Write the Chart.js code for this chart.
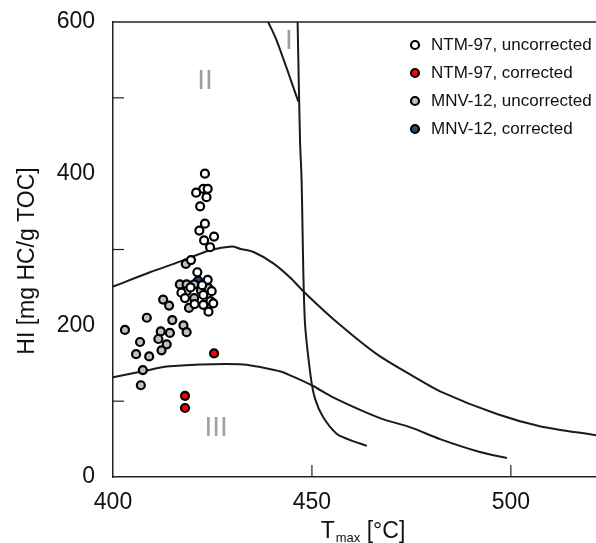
<!DOCTYPE html>
<html>
<head>
<meta charset="utf-8">
<script src="https://cdn.jsdelivr.net/npm/chart.js@4.4.1/dist/chart.umd.min.js"></script>
<style>
html,body{margin:0;padding:0;background:#fff;}
#wrap{width:596px;height:543px;}
</style>
</head>
<body>
<div id="wrap"><canvas id="c" width="596" height="543"></canvas></div>
<script>
// ---- Data ----
const ntmUncorrT  = [423.1,422.7,423.8,420.9,423.5,421.9,423.1,421.7,425.4,422.9,424.4,419.6,421.2,423.8,422.4,424.8,417.2,418.1,424.5,425.2,422.7,424.0,422.7,419.5,420.5];
const ntmUncorrHI = [400,380,380,375,369,357,334,325,317,312,303,286,270,260,253,245,243,236,232,229,227,218,240,250,228];
const ntmCorrT  = [425.4,418.1,418.1];
const ntmCorrHI = [163,107,91];
const mnvUncorrT  = [418.3,416.8,418.5,420.4,424.0,418.5,422.1,420.4,419.1,412.6,414.1,408.5,414.9,417.7,418.5,403.0,412.0,414.3,411.4,413.5,406.8,412.2,405.8,409.1,407.5,407.0];
const mnvUncorrHI = [281,254,254,254,249,245,246,236,223,234,226,210,207,200,191,194,192,190,182,175,178,167,162,159,141,121];
const mnvCorrT  = [421.4];
const mnvCorrHI = [259];

// boundary curves (Tmax, HI)
const upperCurveT  = [400,409.3,416.8,424.4,429.9,431.9,435.2,440.2,444.5,448.2,456.3,466.3,475.4,482.2,496.5,507.3,521.4];
const upperCurveHI = [251,270,284,299,304,301,297,282,263,243,204,162,133,113,83,67,55];
const lowerCurveT  = [400,407.5,414.3,431.9,441.9,445,450.3,455.3,467.1,474.6,482.2,492.2,499];
const lowerCurveHI = [131.6,139.5,146,148.7,139.5,133,120,105,77.6,65.8,50,33,25];
const typeIcurveT  = [439,441.1,446.6];
const typeIcurveHI = [600,576,495];
const steepCurveT  = [446.4,447,447.4,448.2,449.7,450.8,452.8,456.2,459,463.8];
const steepCurveHI = [600,445,392,208,132,103,79,57,50,41];

// axis settings
const xMin = 400, xMax = 521.4, yMin = 0, yMax = 600;
const xTickLabels = [400,450,500];
const yTickLabels = [0,200,400,600];
const xInnerTicks = [450,500];
const yInnerTicks = [100,300,500];

// region labels
const regionNames = ['I','II','III'];
const regionT  = [444.2,423.1,425.9];
const regionHI = [575,522,64];

const legendNames = ['NTM-97, uncorrected','NTM-97, corrected','MNV-12, uncorrected','MNV-12, corrected'];
const colors = {white:'#ffffff', red:'#ff0000', gray:'#bfbfbf', blue:'#1f4e79'};

const FONT = '"Liberation Sans", Arial, Helvetica, sans-serif';
const toPts = (xs, ys) => xs.map((x,i)=>({x:x, y:ys[i]}));

function pointSet(label, xs, ys, fill){
  return {label, data: toPts(xs,ys), backgroundColor: fill, borderColor:'#000', borderWidth:2.2,
    pointRadius:4, pointHoverRadius:4, showLine:false, order:0};
}
function lineSet(xs, ys){
  return {label:'', data: toPts(xs,ys), borderColor:'#1a1a1a', borderWidth:2, pointRadius:0,
    showLine:true, tension:0.3, fill:false, order:5};
}

const decorPlugin = {
  id:'decor',
  afterDraw(chart){
    const ctx = chart.ctx, a = chart.chartArea, xs = chart.scales.x, ys = chart.scales.y;
    ctx.save();
    // top border
    ctx.strokeStyle = '#222'; ctx.lineWidth = 1.5;
    ctx.beginPath(); ctx.moveTo(a.left, a.top); ctx.lineTo(a.right, a.top); ctx.stroke();
    // inner ticks
    ctx.lineWidth = 1.2;
    yInnerTicks.forEach(v=>{ const py = ys.getPixelForValue(v);
      ctx.beginPath(); ctx.moveTo(a.left, py); ctx.lineTo(a.left+11, py); ctx.stroke(); });
    xInnerTicks.forEach(v=>{ const px = xs.getPixelForValue(v);
      ctx.beginPath(); ctx.moveTo(px, a.bottom); ctx.lineTo(px, a.bottom-12); ctx.stroke(); });
    // region labels
    ctx.fillStyle = '#a0a0a0'; ctx.font = '28px ' + FONT; ctx.textAlign='center'; ctx.textBaseline='middle';
    regionNames.forEach((t,i)=>{ ctx.fillText(t, xs.getPixelForValue(regionT[i]), ys.getPixelForValue(regionHI[i])); });
    // legend
    const fills = [colors.white, colors.red, colors.gray, colors.blue];
    ctx.font = '17px ' + FONT; ctx.textAlign='left'; ctx.textBaseline='middle';
    legendNames.forEach((t,i)=>{
      const cy = 45 + i*28, cx = 415;
      ctx.beginPath(); ctx.arc(cx, cy, 4, 0, Math.PI*2);
      ctx.fillStyle = fills[i]; ctx.fill(); ctx.lineWidth = 2.2; ctx.strokeStyle='#000'; ctx.stroke();
      ctx.fillStyle = '#111'; ctx.fillText(t, cx+16, cy);
    });
    // y title
    ctx.save();
    ctx.translate(28, 261); ctx.rotate(-Math.PI/2);
    ctx.font = '23px ' + FONT; ctx.fillStyle='#111'; ctx.textAlign='center'; ctx.textBaseline='middle';
    ctx.fillText('HI [mg HC/g TOC]', 0, 0);
    ctx.restore();
    // x title with subscript
    ctx.fillStyle = '#111'; ctx.textBaseline='alphabetic'; ctx.textAlign='left';
    const big = '23px ' + FONT, small = '13px ' + FONT;
    ctx.font = big; const wT = ctx.measureText('T').width; const wRest = ctx.measureText(' [°C]').width;
    ctx.font = small; const wSub = ctx.measureText('max').width;
    let x0 = 363 - (wT + 1 + wSub + wRest)/2;
    const base = 538;
    ctx.font = big; ctx.fillText('T', x0, base);
    ctx.font = small; ctx.fillText('max', x0 + wT + 1, base + 4);
    ctx.font = big; ctx.fillText(' [°C]', x0 + wT + 1 + wSub, base);
    ctx.restore();
  }
};

new Chart(document.getElementById('c'), {
  type:'scatter',
  data:{ datasets:[
    pointSet(legendNames[0], ntmUncorrT, ntmUncorrHI, colors.white),
    pointSet(legendNames[1], ntmCorrT, ntmCorrHI, colors.red),
    pointSet(legendNames[2], mnvUncorrT, mnvUncorrHI, colors.gray),
    pointSet(legendNames[3], mnvCorrT, mnvCorrHI, colors.blue),
    lineSet(upperCurveT, upperCurveHI),
    lineSet(lowerCurveT, lowerCurveHI),
    lineSet(typeIcurveT, typeIcurveHI),
    lineSet(steepCurveT, steepCurveHI)
  ]},
  options:{
    responsive:false, animation:false, devicePixelRatio:1,
    layout:{autoPadding:false, padding:{top:22,right:0,left:0,bottom:0}},
    plugins:{legend:{display:false}, tooltip:{enabled:false}},
    scales:{
      x:{type:'linear', min:xMin, max:xMax,
        afterBuildTicks(s){ s.ticks = xTickLabels.map(v=>({value:v})); },
        afterFit(s){ s.height = 66; s.paddingLeft = 0; s.paddingRight = 0; },
        ticks:{font:{size:23, family:FONT}, color:'#111', padding:12, maxRotation:0},
        grid:{drawOnChartArea:false, drawTicks:false},
        border:{display:true, color:'#222', width:1.5}
      },
      y:{type:'linear', min:yMin, max:yMax,
        afterBuildTicks(s){ s.ticks = yTickLabels.map(v=>({value:v})); },
        afterFit(s){ s.width = 113; s.paddingTop = 0; s.paddingBottom = 0; },
        ticks:{font:{size:23, family:FONT}, color:'#111', padding:18},
        grid:{drawOnChartArea:false, drawTicks:false},
        border:{display:true, color:'#222', width:1.5}
      }
    }
  },
  plugins:[decorPlugin]
});
</script>
</body>
</html>
